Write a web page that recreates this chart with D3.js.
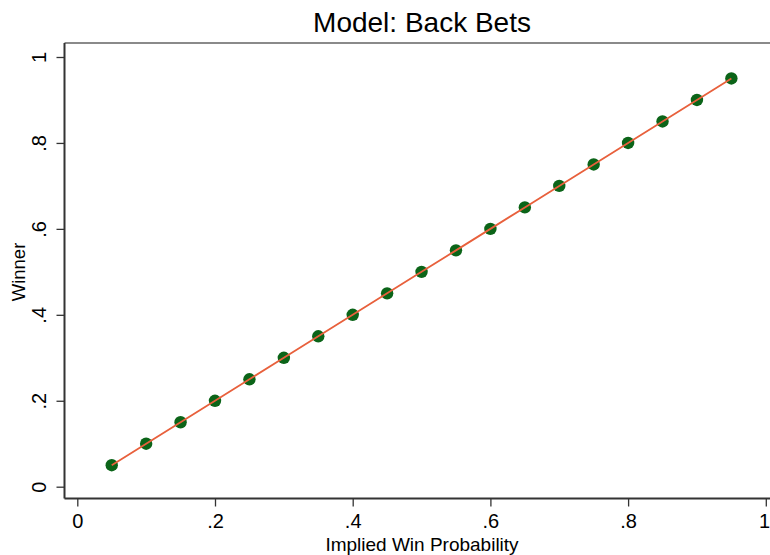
<!DOCTYPE html>
<html>
<head>
<meta charset="utf-8">
<script src="https://cdn.jsdelivr.net/npm/d3@7"></script>
<style>
  body { margin: 0; background: #fff; }
  svg { display: block; font-family: "Liberation Sans", Arial, Helvetica, sans-serif; }
</style>
</head>
<body>
<svg id="chart" width="770" height="555"></svg>
<script>
// Implied win probability bins and observed winner rate
const implied = [0.05, 0.10, 0.15, 0.20, 0.25, 0.30, 0.35, 0.40, 0.45, 0.50,
                 0.55, 0.60, 0.65, 0.70, 0.75, 0.80, 0.85, 0.90, 0.95];
const winner  = [0.05, 0.10, 0.15, 0.20, 0.25, 0.30, 0.35, 0.40, 0.45, 0.50,
                 0.55, 0.60, 0.65, 0.70, 0.75, 0.80, 0.85, 0.90, 0.95];
const tickValues = [0, 0.2, 0.4, 0.6, 0.8, 1];
const tickLabels = ["0", ".2", ".4", ".6", ".8", "1"];

const svg = d3.select("#chart");
const x = d3.scaleLinear().domain([0, 1]).range([77.3, 765.8]);
const y = d3.scaleLinear().domain([0, 1]).range([486.7, 57]);

const plotLeft = 64.5, plotTop = 43, plotBottom = 498.5, plotRight = 772;

// Plot frame (top edge)
svg.append("line")
  .attr("x1", plotLeft).attr("x2", plotRight)
  .attr("y1", plotTop).attr("y2", plotTop)
  .attr("stroke", "#8a8a8a").attr("stroke-width", 2);

const fmt = v => tickLabels[tickValues.indexOf(v)];

// X axis
const xAxis = svg.append("g")
  .attr("transform", `translate(0,${plotBottom})`)
  .call(d3.axisBottom(x).tickValues(tickValues).tickFormat(fmt).tickSize(8));
xAxis.select(".domain").attr("d", `M${plotLeft},0H${plotRight}`)
  .attr("stroke", "#333").attr("stroke-width", 2);
xAxis.selectAll(".tick line").attr("stroke", "#333").attr("stroke-width", 1.3);
xAxis.selectAll(".tick text")
  .attr("font-size", 20).attr("fill", "#000")
  .attr("font-family", "Liberation Sans, Arial, sans-serif")
  .attr("y", 29.5).attr("dy", null)
  // keep the last label inside the right edge of the page
  .attr("dx", d => (d === 1 ? -1.8 : null));

// Y axis with rotated labels
const yAxis = svg.append("g")
  .attr("transform", `translate(${plotLeft},0)`)
  .call(d3.axisLeft(y).tickValues(tickValues).tickFormat(fmt).tickSize(8));
yAxis.select(".domain").attr("d", `M0,${plotTop}V${plotBottom}`)
  .attr("stroke", "#333").attr("stroke-width", 2);
yAxis.selectAll(".tick line").attr("stroke", "#333").attr("stroke-width", 1.3);
yAxis.selectAll(".tick text")
  .attr("font-size", 20).attr("fill", "#000")
  .attr("font-family", "Liberation Sans, Arial, sans-serif")
  .attr("x", null).attr("dy", null)
  .attr("text-anchor", "middle")
  .attr("transform", "translate(-18.5,0) rotate(-90)");

// Fitted line
const line = d3.line().x((d, i) => x(implied[i])).y(d => y(d));

// Points
svg.append("g").selectAll("circle")
  .data(winner)
  .join("circle")
  .attr("cx", (d, i) => x(implied[i]))
  .attr("cy", d => y(d))
  .attr("r", 6.2)
  .attr("fill", "#0b6418");

// Line drawn over the markers
svg.append("path")
  .datum(winner)
  .attr("d", line)
  .attr("fill", "none")
  .attr("stroke", "#e8603c")
  .attr("stroke-width", 1.8);

// Titles
svg.append("text")
  .attr("x", 422).attr("y", 32)
  .attr("text-anchor", "middle")
  .attr("font-size", 28)
  .text("Model: Back Bets");

svg.append("text")
  .attr("x", 422).attr("y", 551)
  .attr("text-anchor", "middle")
  .attr("font-size", 19)
  .text("Implied Win Probability");

svg.append("text")
  .attr("transform", "translate(25,272) rotate(-90)")
  .attr("text-anchor", "middle")
  .attr("font-size", 18.5)
  .text("Winner");
</script>
</body>
</html>
